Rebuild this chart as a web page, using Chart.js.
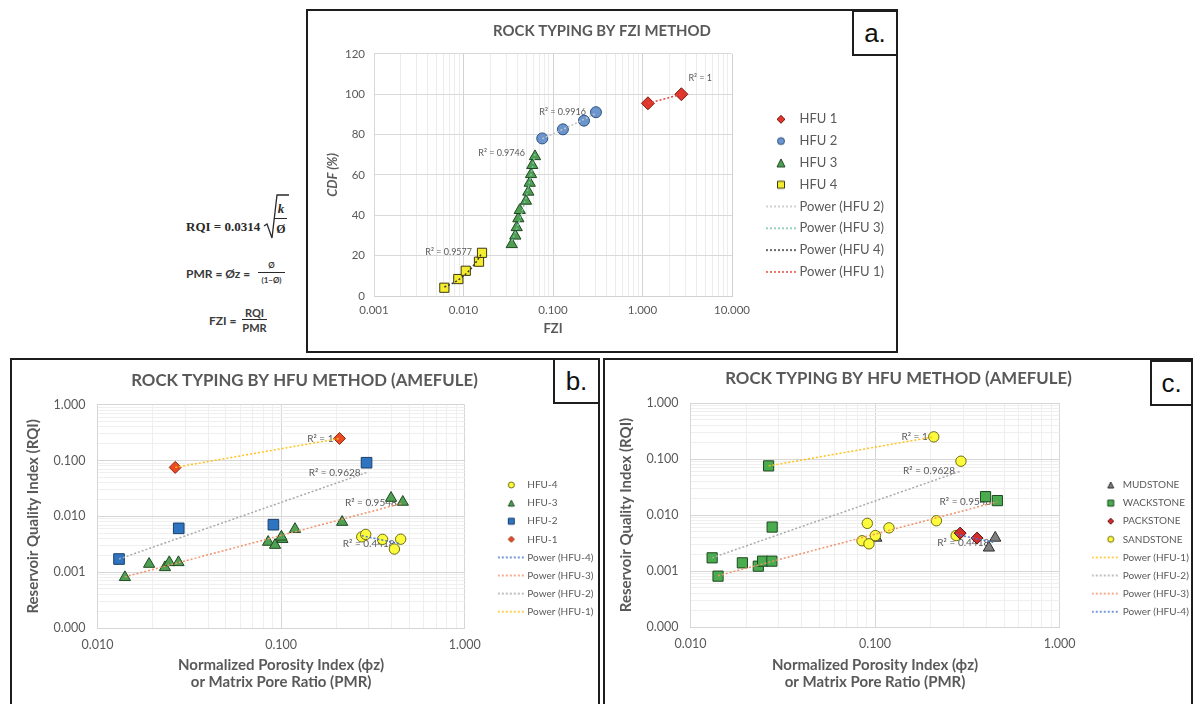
<!DOCTYPE html>
<html>
<head>
<meta charset="utf-8">
<script src="https://cdn.jsdelivr.net/npm/chart.js"></script>
<style>
body{margin:0;width:1193px;height:704px;overflow:hidden;background:#fff;position:relative;font-family:Lato,sans-serif}
.frame{position:absolute;border:2px solid #1d1d1d;box-sizing:border-box}
.tag{position:absolute;border:2px solid #1d1d1d;box-sizing:border-box;background:#fff;font:26px "Liberation Sans",Arial,sans-serif;color:#111;display:flex;align-items:center;justify-content:center;z-index:3}
.cv{position:absolute;z-index:2}
.eq{position:absolute;color:#2a2a2a;white-space:nowrap;line-height:1}
.bar{position:absolute;height:1px;background:#2a2a2a}
</style>
</head>
<body>

<div class="frame" style="left:306px;top:9px;width:592px;height:344px"></div>
<div class="frame" style="left:10px;top:358px;width:590px;height:360px"></div>
<div class="frame" style="left:603px;top:358px;width:590px;height:360px"></div>

<canvas id="chartA" class="cv" width="586" height="338" style="left:309px;top:12px"></canvas>
<canvas id="chartB" class="cv" width="585" height="344" style="left:12px;top:360px"></canvas>
<canvas id="chartC" class="cv" width="583" height="344" style="left:607px;top:360px"></canvas>

<div class="tag" style="left:852px;top:10px;width:46px;height:46px">a.</div>
<div class="tag" style="left:553px;top:358px;width:47px;height:46px">b.</div>
<div class="tag" style="left:1150px;top:360px;width:43px;height:46px">c.</div>

<!-- formulas -->
<div class="eq" style="left:186px;top:219px;font:bold 13px 'Liberation Serif',serif">RQI = 0.0314</div>
<svg style="position:absolute;left:262px;top:192px" width="30" height="50"><polyline points="2,34 5,32 10,46 15,3 27,3" fill="none" stroke="#2a2a2a" stroke-width="1.3"/></svg>
<div class="eq" style="left:275px;top:201px;width:12px;text-align:center;font:italic bold 13px 'Liberation Serif',serif">k</div>
<div class="bar" style="left:274px;top:218px;width:13px"></div>
<div class="eq" style="left:275px;top:222px;width:12px;text-align:center;font:bold 12px 'Liberation Serif',serif">Ø</div>

<div class="eq" style="left:186px;top:266px;font:bold 12px Lato,sans-serif;color:#3a3a3a">PMR = Øz =</div>
<div class="eq" style="left:258px;top:260px;width:27px;text-align:center;font:bold 8px Lato,sans-serif;color:#3a3a3a">Ø</div>
<div class="bar" style="left:258px;top:272px;width:27px"></div>
<div class="eq" style="left:258px;top:275px;width:27px;text-align:center;font:bold 8px Lato,sans-serif;color:#3a3a3a">(1−Ø)</div>

<div class="eq" style="left:209px;top:313px;font:bold 12px Lato,sans-serif;color:#3a3a3a">FZI =</div>
<div class="eq" style="left:240px;top:306px;width:29px;text-align:center;font:bold 11px Lato,sans-serif;color:#3a3a3a">RQI</div>
<div class="bar" style="left:242px;top:319px;width:25px"></div>
<div class="eq" style="left:240px;top:321px;width:29px;text-align:center;font:bold 11px Lato,sans-serif;color:#3a3a3a">PMR</div>

<script>
// ---- panel a : FZI vs CDF ----
const fziTicks = [0.001, 0.01, 0.1, 1, 10];
const cdfTicks = [0, 20, 40, 60, 80, 100, 120];

const fziHfu1 = [1.15, 2.72];
const cdfHfu1 = [95.5, 100];
const fziHfu2 = [0.0758, 0.129, 0.222, 0.302];
const cdfHfu2 = [78.1, 82.6, 86.9, 91.1];
const fziHfu3 = [0.0346, 0.0379, 0.0393, 0.041, 0.0425, 0.0499, 0.053, 0.0549, 0.0568, 0.0587, 0.0629];
const cdfHfu3 = [25.6, 29.8, 34.0, 38.4, 42.5, 47.1, 51.6, 56.0, 60.3, 64.8, 69.2];
const fziHfu4 = [0.00611, 0.00875, 0.0106, 0.0149, 0.0161];
const cdfHfu4 = [4.1, 8.4, 12.5, 17.0, 21.4];
const r2Fzi = ['1', '0.9916', '0.9746', '0.9577'];   // HFU 1..4

// ---- panels b and c : PMR vs RQI ----
const pmrTicks = [0.01, 0.1, 1];
const rqiTicks = [0.0001, 0.001, 0.01, 0.1, 1];

const pmrHfu1 = [0.0265, 0.208];
const rqiHfu1 = [0.0755, 0.249];
const rockHfu1 = ['W', 'S'];
const pmrHfu2 = [0.0131, 0.0277, 0.0908, 0.292];
const rqiHfu2 = [0.00172, 0.0061, 0.0071, 0.0915];
const rockHfu2 = ['W', 'W', 'S', 'S'];
const pmrHfu3 = [0.0141, 0.0191, 0.0233, 0.0246, 0.0276, 0.085, 0.0927, 0.1016, 0.1004, 0.119, 0.215, 0.397, 0.46];
const rqiHfu3 = [0.00081, 0.0014, 0.00122, 0.0015, 0.0015, 0.00347, 0.00306, 0.0039, 0.0043, 0.0059, 0.0079, 0.0213, 0.0181];
const rockHfu3 = ['W', 'W', 'W', 'W', 'W', 'S', 'S', 'M', 'S', 'S', 'S', 'W', 'W'];
const pmrHfu4 = [0.275, 0.289, 0.357, 0.414, 0.448];
const rqiHfu4 = [0.0043, 0.00475, 0.00387, 0.0026, 0.0039];
const rockHfu4 = ['S', 'P', 'P', 'M', 'M'];
const r2Hfu = ['1', '0.9628', '0.9548', '0.4418'];   // HFU-1..4

const rockNames = {M: 'MUDSTONE', W: 'WACKSTONE', P: 'PACKSTONE', S: 'SANDSTONE'};


const GREY = '#595959';

function pts(xs, ys){
    return xs.map((x, i) => ({x: x, y: ys[i]}));
}

// least squares y = a*x^b (what excel calls a power trendline)
function powerFit(xs, ys){
    const lx = xs.map(Math.log), ly = ys.map(Math.log);
    const n = xs.length;
    const mx = lx.reduce((s, v) => s + v, 0) / n;
    const my = ly.reduce((s, v) => s + v, 0) / n;
    let sxy = 0, sxx = 0;
    for(let i = 0; i < n; i++){
        sxy += (lx[i] - mx) * (ly[i] - my);
        sxx += (lx[i] - mx) * (lx[i] - mx);
    }
    const b = sxy / sxx;
    return {a: Math.exp(my - b * mx), b: b};
}

function trend(xs, ys, steps){
    const f = powerFit(xs, ys);
    const lo = Math.min(...xs), hi = Math.max(...xs);
    const out = [];
    for(let i = 0; i <= steps; i++){
        const x = lo * Math.pow(hi / lo, i / steps);
        out.push({x: x, y: f.a * Math.pow(x, f.b)});
    }
    return out;
}

const isDecade = v => Math.abs(Math.log10(v) - Math.round(Math.log10(v))) < 1e-6;

function logTicks(lo, hi){
    const t = [];
    for(let e = Math.round(Math.log10(lo)); e < Math.round(Math.log10(hi)); e++){
        for(let m = 1; m < 10; m++) t.push({value: m * Math.pow(10, e)});
    }
    t.push({value: hi});
    return t;
}

// small canvases used as legend symbols
function icon(shape, fill, stroke, size, width, dx){
    const c = document.createElement('canvas');
    c.width = width; c.height = size + 4;
    const g = c.getContext('2d');
    const x = width / 2 + (dx || 0), y = c.height / 2, h = size / 2;
    g.fillStyle = fill; g.strokeStyle = stroke; g.lineWidth = 1;
    g.beginPath();
    if(shape == 'circle') g.arc(x, y, h, 0, Math.PI * 2);
    else if(shape == 'rect') g.rect(x - h, y - h, size, size);
    else if(shape == 'triangle'){ g.moveTo(x, y - h); g.lineTo(x + h, y + h); g.lineTo(x - h, y + h); g.closePath(); }
    else if(shape == 'rectRot'){ g.moveTo(x, y - h); g.lineTo(x + h, y); g.lineTo(x, y + h); g.lineTo(x - h, y); g.closePath(); }
    if(shape == 'dots'){
        g.setLineDash([2, 2]); g.lineWidth = 1.5;
        g.moveTo(0, y); g.lineTo(width, y);
    } else g.fill();
    g.stroke();
    return c;
}

function markers(label, data, shape, fill, stroke, r, lg){
    return {label: label, data: data, showLine: false, pointStyle: shape, pointRadius: r, pointHoverRadius: r,
        pointBackgroundColor: fill, pointBorderColor: stroke, pointBorderWidth: 1,
        backgroundColor: fill, borderColor: stroke,
        legendIcon: icon(shape, fill, stroke, lg.size, lg.width, lg.dx)};
}

function trendSet(label, data, color, r2, lg, above){
    return {label: label, data: data, showLine: true, pointRadius: 0, pointHoverRadius: 0,
        borderColor: color, borderWidth: 1.5, borderDash: [2, 2], fill: false,
        r2: r2, r2Above: above || false,
        legendIcon: icon('dots', color, color, 2, lg.width, 0)};
}

// move the legend to where excel had it
const placeLegend = {
    id: 'placeLegend',
    afterLayout(chart, args, opts){
        const lg = chart.legend;
        const w = lg.width, h = lg.height;
        lg.left = opts.x; lg.right = opts.x + w + 40;
        lg.top = opts.y; lg.bottom = opts.y + h;
    }
};

// "R² = ..." labels next to the end of each trendline
const r2Labels = {
    id: 'r2Labels',
    beforeDatasetsDraw(chart, args, opts){
        const ctx = chart.ctx;
        ctx.save();
        ctx.font = opts.size + 'px Lato';
        ctx.fillStyle = GREY;
        ctx.textBaseline = 'middle';
        chart.data.datasets.forEach((ds, i) => {
            if(!ds.r2) return;
            const el = chart.getDatasetMeta(i).data;
            const end = el[el.length - 1];
            const txt = 'R² = ' + ds.r2;
            if(ds.r2Above){
                ctx.textAlign = 'left';
                ctx.fillText(txt, end.x + 7, end.y - 16);
            } else {
                ctx.textAlign = 'right';
                ctx.fillText(txt, end.x - opts.gap, end.y + opts.dy);
            }
        });
        ctx.restore();
    }
};

function legendOpts(order, size, pad, boxW){
    return {
        position: 'right', align: 'start',
        labels: {
            usePointStyle: true, pointStyleWidth: boxW, padding: pad, color: GREY,
            font: {family: 'Lato', size: size},
            generateLabels(chart){
                return order.map(i => {
                    const ds = chart.data.datasets[i];
                    return {text: ds.label, pointStyle: ds.legendIcon, fillStyle: 'rgba(0,0,0,0)',
                        strokeStyle: 'rgba(0,0,0,0)', lineWidth: 0, hidden: false, datasetIndex: i, fontColor: GREY};
                });
            }
        }
    };
}

function logAxis(ticks, major, minor){
    return {
        type: 'logarithmic', min: ticks[0], max: ticks[ticks.length - 1],
        afterBuildTicks: s => { s.ticks = logTicks(ticks[0], ticks[ticks.length - 1]); },
        grid: {drawTicks: false, color: c => (c.tick && isDecade(c.tick.value)) ? major : minor},
        border: {color: major}
    };
}

function tickFont(size, pad){
    return {autoSkip: false, maxRotation: 0, padding: pad, color: GREY, font: {family: 'Lato', size: size}};
}

Chart.defaults.font.family = 'Lato';

// ================= panel a =================
const lgA = {size: 8, width: 30, dx: 0};
const dsA = [
    trendSet('Power (HFU 4)', trend(fziHfu4, cdfHfu4, 8), '#3a3a3a', r2Fzi[3], lgA),
    trendSet('Power (HFU 1)', trend(fziHfu1, cdfHfu1, 8), '#e2473d', r2Fzi[0], lgA, true),
    trendSet('Power (HFU 2)', trend(fziHfu2, cdfHfu2, 8), '#c4c4c8', r2Fzi[1], lgA),
    trendSet('Power (HFU 3)', trend(fziHfu3, cdfHfu3, 8), '#78c2a6', r2Fzi[2], lgA),
    markers('HFU 1', pts(fziHfu1, cdfHfu1), 'rectRot', '#e0362c', '#7a1d14', 6.5, {size: 8, width: 30}),
    markers('HFU 2', pts(fziHfu2, cdfHfu2), 'circle', '#6b96cd', '#2f4f80', 5.5, {size: 7, width: 30}),
    markers('HFU 3', pts(fziHfu3, cdfHfu3), 'triangle', '#4e9f52', '#1f4622', 6.5, {size: 8, width: 30}),
    markers('HFU 4', pts(fziHfu4, cdfHfu4), 'rect', '#f4ec2e', '#3d3a10', 6.5, {size: 7, width: 30})
];

const xA = logAxis(fziTicks, '#d2d2d2', '#ececec');
xA.afterFit = s => { s.height = 54; s.paddingRight = 163; };
xA.ticks = tickFont(11.5, 7);
xA.ticks.callback = v => isDecade(v) ? v.toFixed(3) : '';
xA.title = {display: true, text: 'FZI', color: GREY, font: {size: 13, weight: 'bold'}, padding: {top: 0, bottom: 13}};

new Chart(document.getElementById('chartA'), {
    type: 'scatter',
    data: {datasets: dsA},
    options: {
        responsive: false, animation: false, devicePixelRatio: 1,
        layout: {padding: 0},
        scales: {
            x: xA,
            y: {
                min: cdfTicks[0], max: cdfTicks[cdfTicks.length - 1],
                afterFit: s => { s.width = 65; },
                ticks: Object.assign(tickFont(11.5, 9), {stepSize: 20}),
                grid: {drawTicks: false, color: '#d9d9d9'},
                border: {color: '#d9d9d9'},
                title: {display: true, text: 'CDF (%)', color: GREY, font: {size: 13, weight: 'bold', style: 'italic'}, padding: {top: 16}}
            }
        },
        plugins: {
            title: {display: true, text: 'ROCK TYPING BY FZI METHOD', color: GREY, font: {size: 14.9, weight: 'bold'}, padding: {top: 10, bottom: 14}},
            legend: legendOpts([4, 5, 6, 7, 2, 3, 0, 1], 13, 8.8, 24),
            tooltip: {enabled: false},
            placeLegend: {x: 451.2, y: 92},
            r2Labels: {size: 9, gap: 10, dy: -1}
        }
    },
    plugins: [placeLegend, r2Labels]
});

// ================= panels b and c =================
function hfuAxes(g){
    const x = logAxis(pmrTicks, '#d6d6d6', '#efefef');
    x.afterFit = s => { s.height = g.xh; s.paddingRight = g.pr; };
    x.ticks = tickFont(12.5, g.xpad);
    x.ticks.callback = v => isDecade(v) ? v.toFixed(3) : '';
    x.title = {display: true, text: ['Normalized Porosity Index (ϕz)', 'or Matrix Pore Ratio (PMR)'], color: GREY,
        font: {size: 15, weight: 'bold', lineHeight: 1.13}, padding: {top: 0, bottom: 13.5}};
    const y = logAxis(rqiTicks, '#d6d6d6', '#efefef');
    y.afterFit = s => { s.width = g.yw; };
    y.ticks = tickFont(12.5, 12);
    y.ticks.callback = v => isDecade(v) ? v.toFixed(3) : '';
    y.title = {display: true, text: 'Reservoir Quality Index (RQI)', color: GREY,
        font: {size: 15, weight: 'bold'}, padding: {top: g.ytp}};
    return {x: x, y: y};
}

function hfuOptions(g, order, lgPad, boxW){
    return {
        responsive: false, animation: false, devicePixelRatio: 1,
        layout: {padding: 0},
        scales: hfuAxes(g),
        plugins: {
            title: {display: true, text: 'ROCK TYPING BY HFU METHOD (AMEFULE)', color: GREY,
                font: {size: 16.8, weight: 'bold'}, padding: {top: g.tpt, bottom: g.tpb}},
            legend: legendOpts(order, 10, lgPad, boxW),
            tooltip: {enabled: false},
            placeLegend: {x: g.lx, y: g.ly},
            r2Labels: {size: 10, gap: 6, dy: 0}
        }
    };
}

const HFU_TREND = ['#ffc21a', '#a9a9b0', '#f0936a', '#4a78c8'];   // HFU-1..4

// panel b
const lgB = {size: 6, width: 27, dx: 0};
const dsB = [
    trendSet('Power (HFU-4)', trend(pmrHfu4, rqiHfu4, 1), HFU_TREND[3], r2Hfu[3], lgB),
    trendSet('Power (HFU-3)', trend(pmrHfu3, rqiHfu3, 1), HFU_TREND[2], r2Hfu[2], lgB),
    trendSet('Power (HFU-2)', trend(pmrHfu2, rqiHfu2, 1), HFU_TREND[1], r2Hfu[1], lgB),
    trendSet('Power (HFU-1)', trend(pmrHfu1, rqiHfu1, 1), HFU_TREND[0], r2Hfu[0], lgB),
    markers('HFU-4', pts(pmrHfu4, rqiHfu4), 'circle', '#fdfc3c', '#6e6b12', 5.2, lgB),
    markers('HFU-3', pts(pmrHfu3, rqiHfu3), 'triangle', '#4fa052', '#1f4a22', 6.5, lgB),
    markers('HFU-2', pts(pmrHfu2, rqiHfu2), 'rect', '#2e74c0', '#1a3f6a', 7.5, lgB),
    markers('HFU-1', pts(pmrHfu1, rqiHfu1), 'rectRot', '#ec4a22', '#8a2a10', 6, lgB)
];
new Chart(document.getElementById('chartB'), {
    type: 'scatter',
    data: {datasets: dsB},
    options: hfuOptions({xh: 76, pr: 132.3, yw: 85.5, xpad: 9.5, ytp: 12.4, tpt: 10.3, tpb: 14.3, lx: 480.2, ly: 111.9},
        [4, 5, 6, 7, 0, 1, 2, 3], 8.1, 22),
    plugins: [placeLegend, r2Labels]
});

// panel c: same points, coloured by rock type
const allPmr = pmrHfu1.concat(pmrHfu2, pmrHfu3, pmrHfu4);
const allRqi = rqiHfu1.concat(rqiHfu2, rqiHfu3, rqiHfu4);
const allRock = rockHfu1.concat(rockHfu2, rockHfu3, rockHfu4);
function rockPts(code){
    const out = [];
    allRock.forEach((r, i) => { if(r == code) out.push({x: allPmr[i], y: allRqi[i]}); });
    return out;
}
const lgC = {size: 6, width: 28, dx: 5};
const dsC = [
    trendSet('Power (HFU-1)', trend(pmrHfu1, rqiHfu1, 1), HFU_TREND[0], r2Hfu[0], lgC),
    trendSet('Power (HFU-2)', trend(pmrHfu2, rqiHfu2, 1), HFU_TREND[1], r2Hfu[1], lgC),
    trendSet('Power (HFU-3)', trend(pmrHfu3, rqiHfu3, 1), HFU_TREND[2], r2Hfu[2], lgC),
    trendSet('Power (HFU-4)', trend(pmrHfu4, rqiHfu4, 1), HFU_TREND[3], r2Hfu[3], lgC),
    markers(rockNames.P, rockPts('P'), 'rectRot', '#d42b2b', '#5a1010', 6, lgC),
    markers(rockNames.S, rockPts('S'), 'circle', '#fdfc3c', '#6e6b12', 5.2, lgC),
    markers(rockNames.M, rockPts('M'), 'triangle', '#7f7f7f', '#2e2e2e', 6.5, lgC),
    markers(rockNames.W, rockPts('W'), 'rect', '#4bab4f', '#1e4a20', 7.2, lgC)
];
new Chart(document.getElementById('chartC'), {
    type: 'scatter',
    data: {datasets: dsC},
    options: hfuOptions({xh: 77, pr: 130.4, yw: 83.5, xpad: 9.8, ytp: 10.4, tpt: 9, tpb: 13.9, lx: 478.6, ly: 111.9},
        [6, 7, 4, 5, 0, 1, 2, 3], 8.1, 24),
    plugins: [placeLegend, r2Labels]
});
</script>
</body>
</html>
